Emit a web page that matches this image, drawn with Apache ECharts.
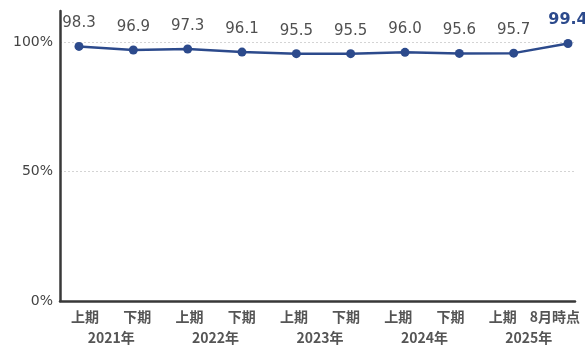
<!DOCTYPE html>
<html>
<head>
<meta charset="utf-8">
<script src="https://cdn.jsdelivr.net/npm/echarts@6/dist/echarts.min.js"></script>
<style>
  html, body { margin: 0; padding: 0; background: #fff; }
  #chart { width: 585px; height: 347px; }
</style>
</head>
<body>
<div id="chart"></div>
<script>
// Half-year periods and their fiscal years
const periods = ['上期', '下期', '上期', '下期', '上期', '下期', '上期', '下期', '上期', '8月時点'];
const years = ['2021年', '2022年', '2023年', '2024年', '2025年'];
// Rate (%) per period
const rates = [98.3, 96.9, 97.3, 96.1, 95.5, 95.5, 96.0, 95.6, 95.7, 99.4];
// Percent ticks on the value axis
const percentTicks = [0, 50, 100];

const navy = '#2c4a8c';
const axisDark = '#383838';
const textGray = '#555';
const cjkFont = '"Noto Sans CJK JP", "Noto Sans CJK SC", sans-serif';

const periodKeys = periods.map((p, i) => years[Math.floor(i / 2)] + p);

const chart = echarts.init(document.getElementById('chart'), null, { renderer: 'canvas' });

chart.setOption({
  backgroundColor: '#fff',
  animation: false,
  grid: [
    // frame: axis lines, percent labels, split lines
    { left: 60, right: 10, top: 11, bottom: 46 },
    // plot area for the line
    { left: 79, right: 17, top: 42, bottom: 46 },
    // period / year labels
    { left: 59, right: 4, top: 11, bottom: 46 }
  ],
  xAxis: [
    {
      gridIndex: 0, type: 'value', min: 0, max: 1,
      axisLine: { show: true, lineStyle: { color: axisDark, width: 2.5 } },
      axisTick: { show: false }, axisLabel: { show: false }, splitLine: { show: false }
    },
    {
      gridIndex: 1, type: 'category', boundaryGap: false, data: periodKeys, show: false
    },
    {
      gridIndex: 2, type: 'category', boundaryGap: true, data: periods, position: 'bottom',
      axisLine: { show: false }, axisTick: { show: false }, splitLine: { show: false },
      axisLabel: { interval: 0, margin: 9, fontSize: 14, fontWeight: 'bold', color: textGray, fontFamily: cjkFont }
    },
    {
      gridIndex: 2, type: 'category', boundaryGap: true, data: years, position: 'bottom',
      axisLine: { show: false }, axisTick: { show: false }, splitLine: { show: false },
      axisLabel: { interval: 0, margin: 30, fontSize: 14, fontWeight: 'bold', color: textGray, fontFamily: cjkFont }
    }
  ],
  yAxis: [
    {
      gridIndex: 0, type: 'value', min: percentTicks[0], max: 112, interval: percentTicks[1] - percentTicks[0],
      axisLine: { show: true, lineStyle: { color: axisDark, width: 2.5 } },
      axisTick: { show: false },
      axisLabel: {
        showMaxLabel: false, margin: 7, fontSize: 14, color: '#444',
        fontFamily: 'DejaVu Sans, sans-serif',
        formatter: v => (percentTicks.indexOf(v) >= 0 ? v + '%' : '')
      },
      splitLine: {
        show: true, showMinLine: false, showMaxLine: false,
        lineStyle: { color: '#d4d4d4', type: [2, 2], width: 1 }
      }
    },
    { gridIndex: 1, type: 'value', min: 0, max: 100, show: false },
    { gridIndex: 2, type: 'value', min: 0, max: 1, show: false }
  ],
  series: [{
    type: 'line',
    xAxisIndex: 1,
    yAxisIndex: 1,
    data: rates.map((v, i) => i === rates.length - 1
      ? { value: v, label: { color: navy, fontWeight: 'bold', fontSize: 16 } }
      : v),
    symbol: 'circle',
    symbolSize: 9,
    lineStyle: { color: navy, width: 2.5 },
    itemStyle: { color: navy },
    label: {
      show: true, position: 'top', distance: 11,
      fontSize: 15, color: '#505050', fontFamily: 'DejaVu Sans, sans-serif',
      formatter: p => p.value.toFixed(1)
    }
  }]
});
</script>
</body>
</html>
